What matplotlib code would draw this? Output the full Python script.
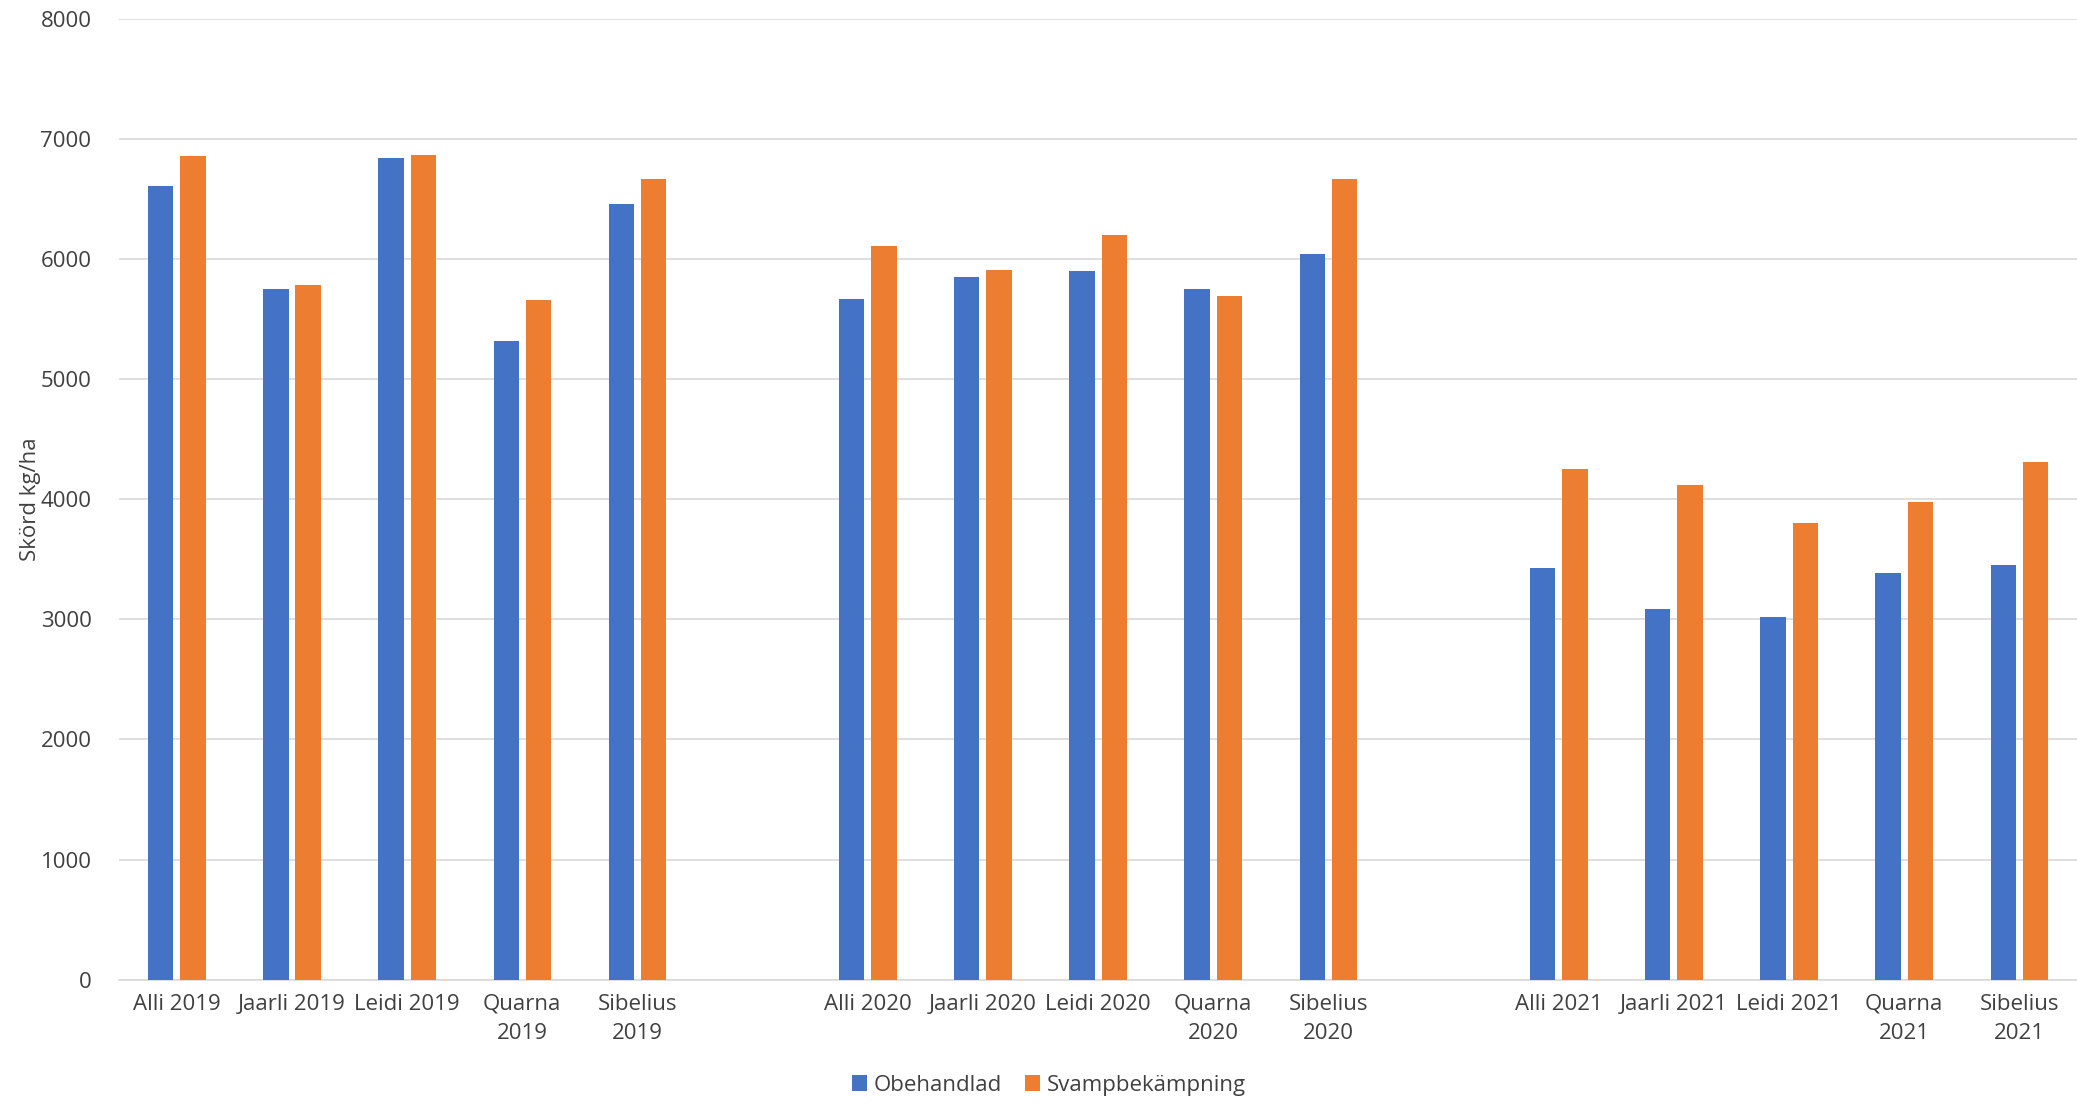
import matplotlib
matplotlib.use("Agg")
import matplotlib.pyplot as plt
import numpy as np

plt.rcParams['font.family'] = ['Open Sans', 'DejaVu Sans']

categories = ["Alli 2019", "Jaarli 2019", "Leidi 2019", "Quarna\n2019", "Sibelius\n2019", "",
              "Alli 2020", "Jaarli 2020", "Leidi 2020", "Quarna\n2020", "Sibelius\n2020", "",
              "Alli 2021", "Jaarli 2021", "Leidi 2021", "Quarna\n2021", "Sibelius\n2021"]
obehandlad = [6610, 5750, 6840, 5320, 6460, np.nan,
              5670, 5850, 5900, 5750, 6040, np.nan,
              3430, 3090, 3020, 3390, 3450]
svamp = [6860, 5780, 6870, 5660, 6670, np.nan,
         6110, 5910, 6200, 5690, 6670, np.nan,
         4250, 4120, 3800, 3980, 4310]

fig = plt.figure(figsize=(20.77, 11.07), dpi=100)
ax = fig.add_axes([0.0574, 0.115, 0.9426, 0.868])
x = np.arange(len(categories))
w = 0.22
ax.bar(x - 0.14, obehandlad, w, color='#4472C4', label='Obehandlad', zorder=3)
ax.bar(x + 0.14, svamp, w, color='#ED7D31', label='Svampbekämpning', zorder=3)
ax.set_xlim(-0.5, len(categories) - 0.5)
ax.set_ylim(0, 8000)
ax.set_yticks(range(0, 8001, 1000))
ax.set_xticks(x)
ax.set_xticklabels(categories, fontsize=16, color='#404040', linespacing=1.5)
ax.tick_params(axis='y', labelsize=16, labelcolor='#404040', length=0, pad=20)
ax.tick_params(axis='x', length=0, pad=10)
ax.grid(axis='y', color='#D9D9D9', linewidth=1.2, zorder=0)
for s in ['top', 'right', 'left']:
    ax.spines[s].set_visible(False)
ax.spines['bottom'].set_color('#D9D9D9')
ax.spines['bottom'].set_linewidth(1.2)
ax.set_ylabel('Skörd kg/ha', fontsize=16, color='#404040')
ax.yaxis.set_label_coords(-0.04, 0.5)
fig.legend(loc='lower center', bbox_to_anchor=(0.505, -0.008), ncol=2, frameon=False,
           fontsize=16, handlelength=0.7, handleheight=0.7, columnspacing=1.0,
           handletextpad=0.3, labelcolor='#404040')
fig.savefig('out.png', dpi=100)
